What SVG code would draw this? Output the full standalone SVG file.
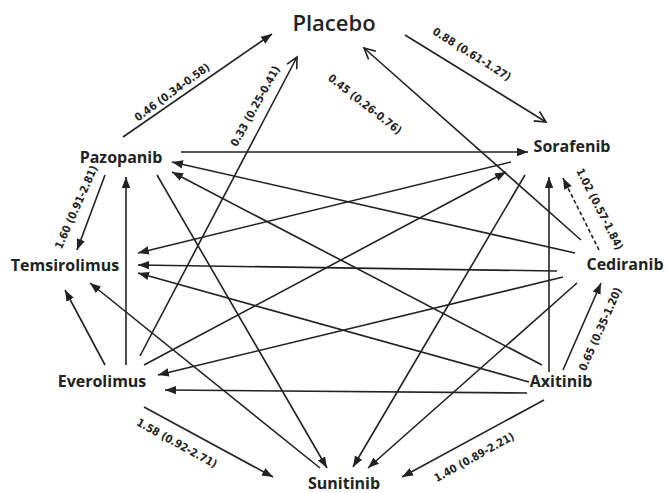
<svg xmlns="http://www.w3.org/2000/svg" width="668" height="493" viewBox="0 0 668 493">
<style>
.node{font-family:"Open Sans","DejaVu Sans",sans-serif;font-weight:bold;font-size:16px;fill:#222;text-anchor:middle}
.lbl{font-family:"DejaVu Sans Condensed","Liberation Sans",sans-serif;font-weight:bold;font-size:11px;fill:#222;text-anchor:middle}
.e{stroke:#222;stroke-width:1.6;fill:none;marker-end:url(#fa)}
.o{marker-end:url(#oa)}
.d{stroke-dasharray:4 2.5}
</style>
<defs>
<marker id="fa" markerUnits="userSpaceOnUse" markerWidth="12" markerHeight="10" viewBox="0 0 12 10" refX="11" refY="5" orient="auto">
<path d="M0,0.8 L11,5 L0,9.2 Z" fill="#222"/>
</marker>
<marker id="oa" markerUnits="userSpaceOnUse" markerWidth="14" markerHeight="14" viewBox="0 0 14 14" refX="12" refY="7" orient="auto">
<path d="M1,1.5 L12,7 L1,12.5" fill="none" stroke="#222" stroke-width="1.6"/>
</marker>
</defs>
<rect width="668" height="493" fill="#fff"/>
<g id="connectors">
<line class="e" x1="123" y1="137" x2="272" y2="34"/>
<line class="e o" x1="140" y1="356" x2="297" y2="57"/>
<line class="e o" x1="405" y1="35" x2="546" y2="122"/>
<line class="e o" x1="581" y1="240" x2="364" y2="48"/>
<line class="e" x1="181" y1="152" x2="528" y2="152"/>
<line class="e" x1="575" y1="253" x2="172" y2="162"/>
<line class="e" x1="542" y1="365" x2="172" y2="172"/>
<line class="e" x1="105" y1="175" x2="77" y2="250"/>
<line class="e" x1="126" y1="365" x2="126" y2="177"/>
<line class="e" x1="157" y1="175" x2="327" y2="468"/>
<line class="e" x1="320" y1="468" x2="90" y2="283"/>
<line class="e" x1="525" y1="175" x2="353" y2="467"/>
<line class="e" x1="577" y1="283" x2="368" y2="468"/>
<line class="e" x1="544" y1="400" x2="402" y2="477"/>
<line class="e" x1="144" y1="407" x2="273" y2="477"/>
<line class="e" x1="105" y1="365" x2="65" y2="290"/>
<line class="e" x1="511" y1="162" x2="138" y2="253"/>
<line class="e" x1="557" y1="271" x2="138" y2="265"/>
<line class="e" x1="529" y1="382" x2="138" y2="273"/>
<line class="e" x1="563" y1="277" x2="158" y2="375"/>
<line class="e" x1="527" y1="393" x2="165" y2="390"/>
<line class="e" x1="144" y1="365" x2="506" y2="172"/>
<line class="e" x1="549" y1="372" x2="549" y2="177"/>
<line class="e d" x1="599" y1="250" x2="563" y2="178"/>
<line class="e" x1="563" y1="370" x2="601" y2="283"/>
</g>
<g id="edge-labels">
<text class="lbl" transform="translate(172,92) rotate(-36)" y="4">0.46 (0.34-0.58)</text>
<text class="lbl" transform="translate(255,106) rotate(-61)" y="4">0.33 (0.25-0.41)</text>
<text class="lbl" transform="translate(472,54) rotate(32)" y="4">0.88 (0.61-1.27)</text>
<text class="lbl" transform="translate(365,104) rotate(38)" y="4">0.45 (0.26-0.76)</text>
<text class="lbl" transform="translate(76,207) rotate(-66)" y="4">1.60 (0.91-2.81)</text>
<text class="lbl" transform="translate(600,209) rotate(63)" y="4">1.02 (0.57-1.84)</text>
<text class="lbl" transform="translate(600,329) rotate(-66)" y="4">0.65 (0.35-1.20)</text>
<text class="lbl" transform="translate(474,457) rotate(-29)" y="4">1.40 (0.89-2.21)</text>
<text class="lbl" transform="translate(177,443) rotate(29)" y="4">1.58 (0.92-2.71)</text>
</g>
<g id="placebo"><text class="node" x="334" y="31" style="font-size:22px;font-weight:600">Placebo</text></g>
<g id="pazopanib"><text class="node" x="121" y="163">Pazopanib</text></g>
<g id="sorafenib"><text class="node" x="572" y="152">Sorafenib</text></g>
<g id="temsirolimus"><text class="node" x="65" y="271">Temsirolimus</text></g>
<g id="cediranib"><text class="node" x="625" y="270">Cediranib</text></g>
<g id="everolimus"><text class="node" x="102" y="387">Everolimus</text></g>
<g id="axitinib"><text class="node" x="561" y="387">Axitinib</text></g>
<g id="sunitinib"><text class="node" x="344" y="489">Sunitinib</text></g>
</svg>
